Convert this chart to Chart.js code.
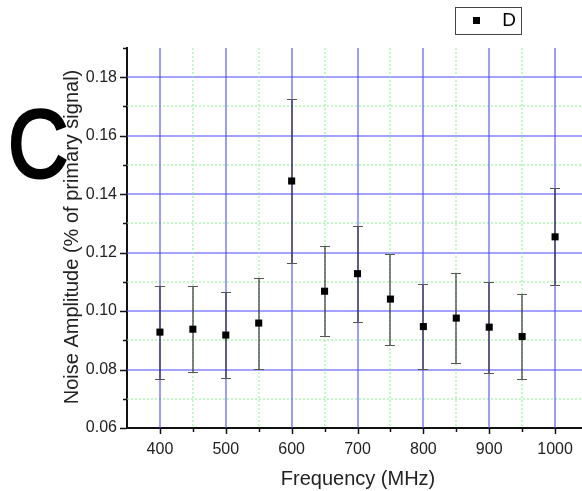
<!DOCTYPE html>
<html>
<head>
<meta charset="utf-8">
<script src="https://cdn.jsdelivr.net/npm/chart.js@4/dist/chart.umd.min.js"></script>
<style>
  html, body { margin: 0; padding: 0; background: #fff; overflow: hidden; }
  #wrap { width: 582px; height: 491px; overflow: hidden; position: relative; }
</style>
</head>
<body>
<div id="wrap"><canvas id="chart" width="600" height="491"></canvas></div>
<script>
const freqs = [400, 450, 500, 550, 600, 650, 700, 750, 800, 850, 900, 950, 1000];
const noise = [0.0928, 0.0938, 0.0918, 0.0959, 0.1445, 0.1068, 0.1128, 0.1041, 0.0947, 0.0976, 0.0945, 0.0913, 0.1254];
const errUpper = [0.1086, 0.1086, 0.1066, 0.1114, 0.1726, 0.1223, 0.1291, 0.1195, 0.1092, 0.1130, 0.1099, 0.1057, 0.1420];
const errLower = [0.0767, 0.0791, 0.0770, 0.0803, 0.1164, 0.0915, 0.0962, 0.0883, 0.0803, 0.0822, 0.0788, 0.0767, 0.1089];
const xTickLabels = [400, 500, 600, 700, 800, 900, 1000];
const yTickLabels = ['0.06', '0.08', '0.10', '0.12', '0.14', '0.16', '0.18'];

const FONT = '"Liberation Sans", Arial, sans-serif';
const MAJOR = 'rgba(80,80,255,0.7)';
const MINOR = 'rgba(130,240,130,0.75)';

// grid, tick marks, error bars
const decorPlugin = {
  id: 'decor',
  beforeDatasetsDraw(chart) {
    const { ctx, chartArea: a, scales: { x, y } } = chart;
    ctx.save();
    y.ticks.forEach(t => {
      const k = Math.round(t.value * 100);
      if (k <= 6 || k >= 19) return;
      const py = Math.round(y.getPixelForValue(t.value));
      const major = k % 2 === 0;
      ctx.lineWidth = major ? 1.6 : 1.3;
      ctx.setLineDash(major ? [] : [2, 2]);
      ctx.strokeStyle = major ? MAJOR : MINOR;
      ctx.beginPath();
      ctx.moveTo(a.left, py);
      ctx.lineTo(a.right, py);
      ctx.stroke();
    });
    x.ticks.forEach(t => {
      const v = t.value;
      if (v <= 350 || v >= 1050) return;
      const px = Math.round(x.getPixelForValue(v));
      const major = v % 100 === 0;
      ctx.lineWidth = major ? 1.6 : 1.3;
      ctx.setLineDash(major ? [] : [2, 2]);
      ctx.strokeStyle = major ? MAJOR : MINOR;
      ctx.beginPath();
      ctx.moveTo(px, a.top);
      ctx.lineTo(px, a.bottom);
      ctx.stroke();
    });
    ctx.setLineDash([]);

    // error bars
    ctx.lineWidth = 1.2;
    freqs.forEach((f, i) => {
      const px = Math.round(x.getPixelForValue(f));
      const hi = Math.round(y.getPixelForValue(errUpper[i])) + 0.5;
      const lo = Math.round(y.getPixelForValue(errLower[i])) + 0.5;
      ctx.strokeStyle = '#333';
      ctx.beginPath();
      ctx.moveTo(px, hi);
      ctx.lineTo(px, lo);
      ctx.stroke();
      ctx.strokeStyle = '#555';
      ctx.beginPath();
      ctx.moveTo(px - 5, hi);
      ctx.lineTo(px + 5, hi);
      ctx.moveTo(px - 5, lo);
      ctx.lineTo(px + 5, lo);
      ctx.stroke();
    });
    ctx.restore();
  },
  afterDraw(chart) {
    const { ctx, chartArea: a, scales: { x, y } } = chart;
    ctx.save();
    ctx.strokeStyle = '#111';
    ctx.lineWidth = 1.5;
    // y tick marks
    y.ticks.forEach(t => {
      const k = Math.round(t.value * 100);
      const py = Math.round(y.getPixelForValue(t.value)) + 0.5;
      const len = k % 2 === 0 ? 7 : 4;
      ctx.beginPath();
      ctx.moveTo(a.left - len, py);
      ctx.lineTo(a.left, py);
      ctx.stroke();
    });
    // x tick marks
    x.ticks.forEach(t => {
      const v = t.value;
      if (v <= 350) return;
      const px = Math.round(x.getPixelForValue(v)) + 0.5;
      const len = v % 100 === 0 ? 6 : 4;
      ctx.beginPath();
      ctx.moveTo(px, a.bottom);
      ctx.lineTo(px, a.bottom + len);
      ctx.stroke();
    });

    // axis titles
    ctx.fillStyle = '#222';
    ctx.font = '20px ' + FONT;
    ctx.textAlign = 'center';
    ctx.textBaseline = 'middle';
    ctx.fillText('Frequency (MHz)', 358, 479);
    ctx.save();
    ctx.translate(72, 237);
    ctx.rotate(-Math.PI / 2);
    ctx.fillText('Noise Amplitude (% of primary signal)', 0, 0);
    ctx.restore();

    // panel letter
    ctx.save();
    ctx.translate(8, 177);
    ctx.scale(0.86, 1);
    ctx.fillStyle = '#000';
    ctx.strokeStyle = '#000';
    ctx.lineWidth = 3;
    ctx.font = '97px ' + FONT;
    ctx.textAlign = 'left';
    ctx.textBaseline = 'alphabetic';
    ctx.fillText('C', 0, 0);
    ctx.strokeText('C', 0, 0);
    ctx.restore();

    // legend
    ctx.fillStyle = '#fff';
    ctx.fillRect(455, 7, 66, 27);
    ctx.strokeStyle = '#444';
    ctx.lineWidth = 1;
    ctx.strokeRect(455.5, 7.5, 66, 27);
    ctx.fillStyle = '#000';
    ctx.fillRect(473, 17, 7, 7);
    ctx.font = '19px ' + FONT;
    ctx.textAlign = 'center';
    ctx.textBaseline = 'middle';
    ctx.fillText(chart.data.datasets[0].label, 509, 21);
    ctx.restore();
  }
};

new Chart(document.getElementById('chart'), {
  type: 'scatter',
  data: {
    datasets: [{
      label: 'D',
      data: freqs.map((f, i) => ({ x: f, y: noise[i] })),
      pointStyle: 'rect',
      pointRadius: 5,
      pointHoverRadius: 5,
      backgroundColor: '#000',
      borderColor: '#000',
      borderWidth: 0,
      showLine: false
    }]
  },
  options: {
    responsive: false,
    animation: false,
    events: [],
    layout: { padding: { top: 48, right: 10, left: 0, bottom: 0 } },
    plugins: { legend: { display: false }, tooltip: { enabled: false } },
    scales: {
      x: {
        type: 'linear',
        min: 350,
        max: 1050,
        afterFit: s => { s.height = 63; },
        grid: { display: false, drawTicks: false },
        border: { display: true, color: '#111', width: 2 },
        ticks: {
          stepSize: 50,
          autoSkip: false,
          maxRotation: 0,
          padding: 12,
          color: '#222',
          font: { family: FONT, size: 16 },
          callback: v => xTickLabels.includes(v) ? String(v) : ''
        }
      },
      y: {
        min: 0.06,
        max: 0.19,
        afterFit: s => { s.width = 127; },
        grid: { display: false, drawTicks: false },
        border: { display: true, color: '#111', width: 2 },
        ticks: {
          stepSize: 0.01,
          autoSkip: false,
          padding: 10,
          color: '#222',
          font: { family: FONT, size: 16 },
          callback: v => {
            const s = v.toFixed(2);
            return yTickLabels.includes(s) ? s : '';
          }
        }
      }
    }
  },
  plugins: [decorPlugin]
});
</script>
</body>
</html>
